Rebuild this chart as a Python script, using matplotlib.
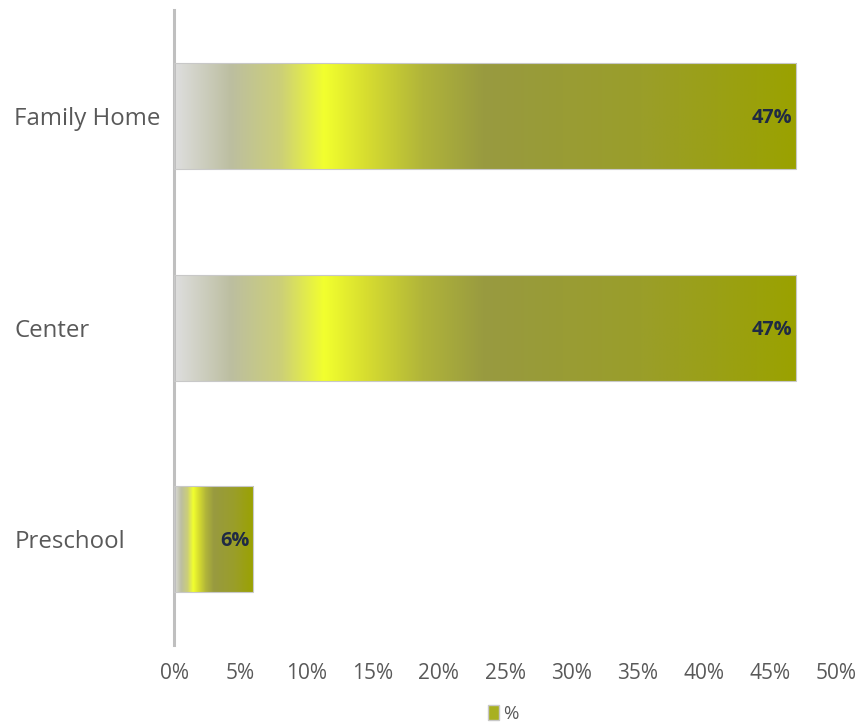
import matplotlib
matplotlib.use("Agg")
import matplotlib.pyplot as plt
import numpy as np
from matplotlib.colors import LinearSegmentedColormap
from matplotlib.patches import Rectangle

# data
categories = ["Family Home", "Center", "Preschool"]
values = [0.47, 0.47, 0.06]
labels = ["47%", "47%", "6%"]
ticks = [0.0, 0.05, 0.10, 0.15, 0.20, 0.25, 0.30, 0.35, 0.40, 0.45, 0.50]
series_name = "%"

plt.rcParams['font.family'] = ['Open Sans', 'DejaVu Sans']

# gradient along each bar (grey -> bright yellow -> olive)
grad = LinearSegmentedColormap.from_list("bar_grad", [
    (0.00, "#dedede"),
    (0.09, "#bcbea0"),
    (0.17, "#cccf78"),
    (0.24, "#f2ff2e"),
    (0.31, "#d6dc30"),
    (0.40, "#b0b43a"),
    (0.50, "#989a40"),
    (0.75, "#9a9e2a"),
    (1.00, "#9aa200"),
])
strip = np.linspace(0, 1, 256).reshape(1, -1)

fig = plt.figure(figsize=(8.61, 7.24), dpi=100)
ax = fig.add_axes([0.2021, 0.109, 0.769, 0.877])

h = 0.5
ypos = np.arange(len(categories))[::-1]
bars = ax.barh(ypos, values, height=h, color="none", edgecolor="#c8c8c8", linewidth=0.8, zorder=3)
for b, v in zip(bars, values):
    y0 = b.get_y()
    im = ax.imshow(strip, cmap=grad, aspect="auto", extent=(0, v, y0, y0 + h),
                   interpolation="bilinear", zorder=2)
    im.set_clip_path(Rectangle((0, y0), v, h, transform=ax.transData))

for y, v, lab in zip(ypos, values, labels):
    ax.annotate(lab, (v, y), xytext=(-3, -1.5), textcoords="offset points",
                ha="right", va="center", fontsize=14.3, fontweight="bold", color="#1f2a44", zorder=4)

ax.set_xlim(0, 0.5)
ax.set_ylim(-0.5, len(categories) - 0.5)
ax.set_xticks(ticks)
ax.set_xticklabels([f"{int(round(t * 100))}%" for t in ticks])
ax.set_yticks(ypos)
ax.set_yticklabels(categories)
ax.tick_params(axis="x", length=0, labelsize=15, labelcolor="#595959", pad=13)
ax.tick_params(axis="y", length=0, labelsize=17.3, labelcolor="#595959", pad=115)
for s in ["top", "right", "bottom"]:
    ax.spines[s].set_visible(False)
ax.spines["left"].set_color("#bfbfbf")
ax.spines["left"].set_linewidth(2.2)
for lab in ax.get_yticklabels():
    lab.set_horizontalalignment("left")

# legend
handle = Rectangle((0, 0), 1, 1, facecolor="#a8b020", edgecolor="#c8c8c8")
fig.legend([handle], [series_name], loc="center", bbox_to_anchor=(0.584, 0.014),
           frameon=False, fontsize=13.5, handlelength=0.6, handleheight=0.8,
           handletextpad=0.2, labelcolor="#595959")

fig.savefig("out.png", dpi=100)
